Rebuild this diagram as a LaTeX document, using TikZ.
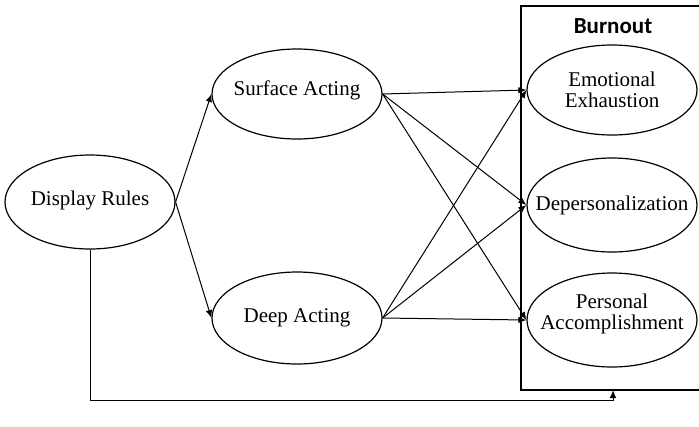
\documentclass[tikz,border=0pt]{standalone}
\usepackage{fontspec}
\setmainfont{Liberation Serif}
\newfontfamily\carl{Carlito}
\usetikzlibrary{shapes.geometric,arrows.meta}
\begin{document}
\begin{tikzpicture}[x=1pt,y=-1pt,
  ell/.style={draw,ellipse,line width=1.2pt,minimum width=170pt,minimum height=92pt,inner sep=0pt},
  lbl/.style={align=center,inner sep=0pt,font=\fontsize{21}{21.5}\selectfont},
  arr/.style={line width=1pt,-{Latex[length=8pt,width=6.5pt]}},
  boxline/.style={line width=1.2pt}]
\useasboundingbox (0,0) rectangle (699,426);
\fill[white] (0,0) rectangle (699,426);
% burnout box
\draw[boxline] (706,6) -- (521,6) -- (521,390) -- (706,390);
\node[font=\carl\bfseries\fontsize{23}{25}\selectfont,inner sep=0pt] (bt) at (613,26) {Burnout};
\coordinate (boxb) at (613,390);
% ellipses
\node[ell,minimum height=94pt] (dr) at (90,202) {};
\node[lbl] (drt) at (90,200) {Display Rules};
\node[ell,minimum height=90pt] (sa) at (297,94) {};
\node[lbl] (sat) at (297,90) {Surface Acting};
\node[ell,minimum height=92pt] (da) at (297,318) {};
\node[lbl] (dat) at (297,318) {Deep Acting};
\node[ell,minimum height=90pt] (ee) at (612,90) {};
\node[lbl] (eet) at (612,90) {Emotional\\Exhaustion};
\node[ell,minimum height=94pt] (dp) at (612,205) {};
\node[lbl] (dpt) at (612,205) {Depersonalization};
\node[ell,minimum height=94pt] (pa) at (612,320) {};
\node[lbl] (pat) at (612,314) {Personal\\Accomplishment};
% connectors
\draw[arr] (dr.east) -- (sa.west);
\draw[arr] (dr.east) -- (da.west);
\draw[arr] (sa.east) -- (ee.west);
\draw[arr] (sa.east) -- (dp.west);
\draw[arr] (sa.east) -- (pa.west);
\draw[arr] (da.east) -- (ee.west);
\draw[arr] (da.east) -- (dp.west);
\draw[arr] (da.east) -- (pa.west);
\draw[arr] (dr.south) -- ++(0,151) -| (boxb);
\end{tikzpicture}
\end{document}
